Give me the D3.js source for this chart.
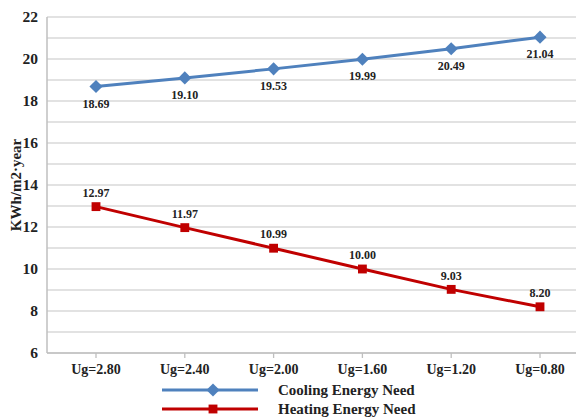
<!DOCTYPE html>
<html>
<head>
<meta charset="utf-8">
<script src="https://cdn.jsdelivr.net/npm/d3@7"></script>
<style>
  body { margin: 0; background: #fff; }
  text { font-family: "Liberation Serif", "Times New Roman", serif; font-weight: bold; }
</style>
</head>
<body>
<div id="chart-area"></div>
<script>
var categories = ["Ug=2.80", "Ug=2.40", "Ug=2.00", "Ug=1.60", "Ug=1.20", "Ug=0.80"]
var cooling = [18.69, 19.10, 19.53, 19.99, 20.49, 21.04]
var heating = [12.97, 11.97, 10.99, 10.00, 9.03, 8.20]
var coolingLabels = ["18.69", "19.10", "19.53", "19.99", "20.49", "21.04"]
var heatingLabels = ["12.97", "11.97", "10.99", "10.00", "9.03", "8.20"]
var yTicks = [6, 8, 10, 12, 14, 16, 18, 20, 22]
var yGrid = d3.range(6, 23, 1)

var width = 576, height = 419
var plotLeft = 47, plotRight = 576, plotTop = 17, plotBottom = 353

var svg = d3.select("#chart-area")
    .append("svg")
    .attr("width", width)
    .attr("height", height)

var x = d3.scalePoint()
    .domain(categories)
    .range([51.6, 584.4])
    .padding(0.5)
var y = d3.scaleLinear()
    .domain([6, 22])
    .range([plotBottom, plotTop])

// grid
svg.append("g").selectAll("line")
    .data(yGrid)
    .enter().append("line")
    .attr("x1", plotLeft).attr("x2", plotRight)
    .attr("y1", d => y(d)).attr("y2", d => y(d))
    .attr("stroke", "#d9d9d9")
    .attr("stroke-width", 1.3)

// axes
svg.append("line")
    .attr("x1", plotLeft).attr("x2", plotLeft)
    .attr("y1", plotTop).attr("y2", plotBottom)
    .attr("stroke", "#bfbfbf").attr("stroke-width", 1.5)
svg.append("line")
    .attr("x1", plotLeft).attr("x2", plotRight)
    .attr("y1", plotBottom).attr("y2", plotBottom)
    .attr("stroke", "#bfbfbf").attr("stroke-width", 1.5)

svg.append("g").selectAll("line")
    .data(categories)
    .enter().append("line")
    .attr("x1", d => x(d)).attr("x2", d => x(d))
    .attr("y1", plotBottom).attr("y2", plotBottom + 5)
    .attr("stroke", "#bfbfbf").attr("stroke-width", 1.3)

svg.append("g").selectAll("text")
    .data(yTicks)
    .enter().append("text")
    .attr("x", 38)
    .attr("y", d => y(d))
    .attr("dy", "0.35em")
    .attr("text-anchor", "end")
    .attr("font-size", "15.5px")
    .attr("fill", "#222")
    .text(d => d)

svg.append("g").selectAll("text")
    .data(categories)
    .enter().append("text")
    .attr("x", d => x(d))
    .attr("y", 369)
    .attr("dy", "0.35em")
    .attr("text-anchor", "middle")
    .attr("font-size", "14px")
    .attr("fill", "#222")
    .text(d => d)

svg.append("text")
    .attr("transform", "translate(16," + ((plotTop + plotBottom) / 2) + ") rotate(-90)")
    .attr("dy", "0.35em")
    .attr("text-anchor", "middle")
    .attr("font-size", "15px")
    .attr("fill", "#222")
    .text("KWh/m2·year")

var line = d3.line()
    .x((d, i) => x(categories[i]))
    .y(d => y(d))

var blue = "#4f81bd", red = "#c00000"

svg.append("path")
    .datum(cooling)
    .attr("d", line)
    .attr("fill", "none")
    .attr("stroke", blue)
    .attr("stroke-width", 3)
svg.append("path")
    .datum(heating)
    .attr("d", line)
    .attr("fill", "none")
    .attr("stroke", red)
    .attr("stroke-width", 3)

var diamond = d3.symbol().type(d3.symbolDiamond2).size(110)
var square = d3.symbol().type(d3.symbolSquare2).size(100)

svg.append("g").selectAll("path")
    .data(cooling)
    .enter().append("path")
    .attr("d", diamond)
    .attr("transform", (d, i) => "translate(" + x(categories[i]) + "," + y(d) + ")")
    .attr("fill", blue)
svg.append("g").selectAll("path")
    .data(heating)
    .enter().append("path")
    .attr("d", square)
    .attr("transform", (d, i) => "translate(" + x(categories[i]) + "," + y(d) + ")")
    .attr("fill", red)

svg.append("g").selectAll("text")
    .data(cooling)
    .enter().append("text")
    .attr("x", (d, i) => x(categories[i]))
    .attr("y", d => y(d) + 17)
    .attr("dy", "0.35em")
    .attr("text-anchor", "middle")
    .attr("font-size", "12px")
    .attr("fill", "#222")
    .text((d, i) => coolingLabels[i])
svg.append("g").selectAll("text")
    .data(heating)
    .enter().append("text")
    .attr("x", (d, i) => x(categories[i]))
    .attr("y", d => y(d) - 14)
    .attr("dy", "0.35em")
    .attr("text-anchor", "middle")
    .attr("font-size", "12px")
    .attr("fill", "#222")
    .text((d, i) => heatingLabels[i])

// legend
var legend = [
    { name: "Cooling Energy Need", color: blue, sym: diamond, y: 390 },
    { name: "Heating Energy Need", color: red, sym: square, y: 409 }
]
var lg = svg.append("g").selectAll("g")
    .data(legend)
    .enter().append("g")
lg.append("line")
    .attr("x1", 162).attr("x2", 258)
    .attr("y1", d => d.y).attr("y2", d => d.y)
    .attr("stroke", d => d.color)
    .attr("stroke-width", 3)
lg.append("path")
    .attr("d", d => d.sym())
    .attr("transform", d => "translate(213," + d.y + ")")
    .attr("fill", d => d.color)
lg.append("text")
    .attr("x", 278)
    .attr("y", d => d.y)
    .attr("dy", "0.35em")
    .attr("font-size", "15px")
    .attr("fill", "#222")
    .text(d => d.name)
</script>
</body>
</html>
